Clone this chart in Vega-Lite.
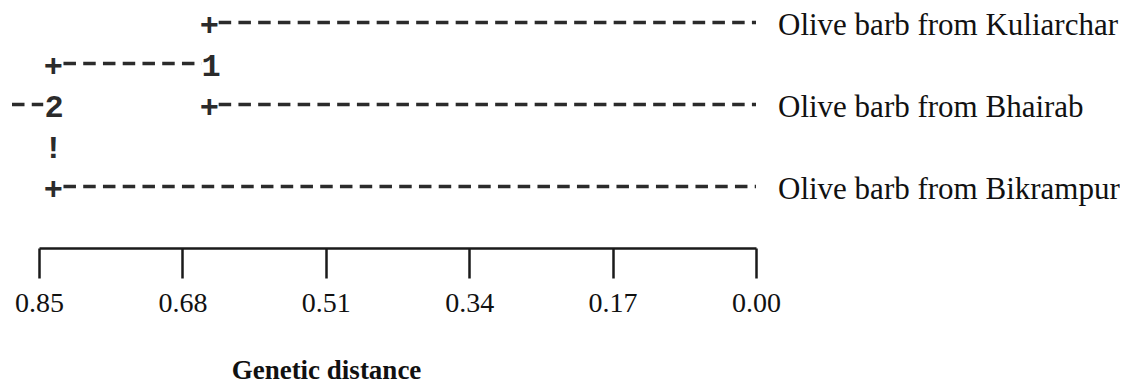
{
  "$schema": "https://vega.github.io/schema/vega-lite/v6.json",
  "width": 717,
  "height": 248,
  "padding": {"left": 10, "top": 0, "right": 0, "bottom": 0},
  "background": "white",
  "config": {"view": {"stroke": null}},
  "datasets": {
    "segments": [
      {"row": 1, "from": 0.637, "to": 0},
      {"row": 2, "from": 0.821, "to": 0.657},
      {"row": 3, "from": 0.882, "to": 0.845},
      {"row": 3, "from": 0.637, "to": 0},
      {"row": 5, "from": 0.821, "to": 0}
    ],
    "glyphs": [
      {"row": 1, "d": 0.648, "ch": "+"},
      {"row": 2, "d": 0.833, "ch": "+"},
      {"row": 2, "d": 0.646, "ch": "1"},
      {"row": 3, "d": 0.832, "ch": "2"},
      {"row": 3, "d": 0.648, "ch": "+"},
      {"row": 4, "d": 0.833, "ch": "!"},
      {"row": 5, "d": 0.833, "ch": "+"}
    ],
    "leaves": [
      {"row": 1, "d": 0, "name": "Olive barb from Kuliarchar"},
      {"row": 3, "d": 0, "name": "Olive barb from Bhairab"},
      {"row": 5, "d": 0, "name": "Olive barb from Bikrampur"}
    ]
  },
  "layer": [
    {
      "data": {"name": "segments"},
      "mark": {"type": "rule", "strokeWidth": 3.5, "strokeDash": [12.5, 7.25], "color": "#2b2b2b"},
      "encoding": {
        "x": {
          "field": "from",
          "type": "quantitative",
          "scale": {"domain": [0, 0.85], "reverse": true, "nice": false, "zero": false},
          "axis": {
            "values": [0.85, 0.68, 0.51, 0.34, 0.17, 0],
            "format": ".2f",
            "grid": false,
            "domainColor": "#1a1a1a",
            "domainWidth": 2.5,
            "tickColor": "#1a1a1a",
            "tickWidth": 2.5,
            "tickSize": 30,
            "labelFont": "Liberation Serif",
            "labelFontSize": 28,
            "labelColor": "#111111",
            "labelPadding": 11,
            "labelDx": 7,
            "labelFlush": false,
            "labelOverlap": false,
            "title": "Genetic distance",
            "titleFont": "Liberation Serif",
            "titleFontSize": 27,
            "titleFontWeight": "bold",
            "titleColor": "#111111",
            "titleX": 287,
            "titleY": 130,
            "titleAlign": "center",
            "titleBaseline": "alphabetic"
          }
        },
        "x2": {"field": "to"},
        "y": {
          "field": "row",
          "type": "quantitative",
          "scale": {"domain": [0.45, 6.5], "reverse": true, "nice": false, "zero": false},
          "axis": null
        }
      }
    },
    {
      "data": {"name": "glyphs"},
      "mark": {"type": "text", "font": "Liberation Mono", "fontSize": 32, "fontWeight": "bold", "color": "#2b2b2b", "baseline": "middle", "align": "center", "dy": 2},
      "encoding": {
        "x": {"field": "d", "type": "quantitative"},
        "y": {"field": "row", "type": "quantitative"},
        "text": {"field": "ch"}
      }
    },
    {
      "data": {"name": "leaves"},
      "mark": {"type": "text", "font": "Liberation Serif", "fontSize": 31, "color": "#111111", "baseline": "middle", "align": "left", "dx": 22, "dy": 3},
      "encoding": {
        "x": {"field": "d", "type": "quantitative"},
        "y": {"field": "row", "type": "quantitative"},
        "text": {"field": "name"}
      }
    }
  ]
}
